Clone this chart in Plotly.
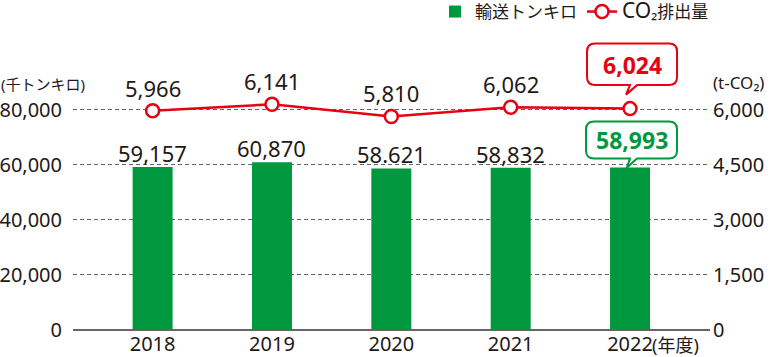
import plotly.graph_objects as go

years = ["2018", "2019", "2020", "2021", "2022"]
tonkm = [59157, 60870, 58621, 58832, 58993]          # 輸送トンキロ (千トンキロ)
co2 = [5966, 6141, 5810, 6062, 6024]                  # CO2排出量 (t-CO2)
tonkm_labels = ["59,157", "60,870", "58.621", "58,832", "58,993"]
co2_labels = ["5,966", "6,141", "5,810", "6,062", "6,024"]
left_ticks = [0, 20000, 40000, 60000, 80000]
left_ticktext = ["0", "20,000", "40,000", "60,000", "80,000"]
right_ticks = [0, 1500, 3000, 4500, 6000]
right_ticktext = ["0", "1,500", "3,000", "4,500", "6,000"]

GREEN = "#00983F"
RED = "#E60012"
TXT = "#231815"
FONT = "Noto Sans, Noto Sans CJK JP, sans-serif"

W, H = 770, 357
ML, MR, MT, MB = 73, 60, 40, 27
PH = H - MT - MB                     # plot height in px
PW = W - ML - MR
PX80 = 220.5                         # px between 0 and 80,000
YMAX = 80000 * PH / PX80
Y2MAX = YMAX * 6000 / 80000

def py(pix_y):                       # page y (px from top) -> paper fraction
    return (H - MB - pix_y) / PH

def px(pix_x):                       # page x -> paper fraction
    return (pix_x - ML) / PW

xs = list(range(len(years)))

fig = go.Figure()
fig.add_trace(go.Bar(
    x=xs, y=tonkm, name="輸送トンキロ", marker=dict(color=GREEN, line=dict(width=0)),
    width=0.335, yaxis="y",
))
fig.add_trace(go.Scatter(
    x=xs, y=co2, name="<span style='font-size:21px'>CO</span>₂排出量",
    mode="lines+markers", yaxis="y2",
    line=dict(color=RED, width=2.5),
    marker=dict(symbol="circle", size=13, color="white", line=dict(color=RED, width=2.5)),
))

ann = []
shapes = []
last = len(years) - 1
for i in xs:
    if i < last:
        ann.append(dict(x=i, y=tonkm[i], xref="x", yref="y", text=tonkm_labels[i],
                        showarrow=False, yanchor="middle", yshift=14,
                        font=dict(family=FONT, size=22, color=TXT)))
        ann.append(dict(x=i, y=co2[i], xref="x", yref="y2", text=co2_labels[i],
                        showarrow=False, yanchor="middle", yshift=23,
                        font=dict(family=FONT, size=22, color=TXT)))

def bubble(left, right, bottom, top, tb0, tb1, tipx, tipy, r=8):
    return (f"M{left + r},{top} L{right - r},{top} Q{right},{top} {right},{top - r} "
            f"L{right},{bottom + r} Q{right},{bottom} {right - r},{bottom} "
            f"L{tb1},{bottom} L{tipx},{tipy} L{tb0},{bottom} "
            f"L{left + r},{bottom} Q{left},{bottom} {left},{bottom + r} "
            f"L{left},{top - r} Q{left},{top} {left + r},{top} Z")

# callout for the last CO2 point
shapes.append(dict(type="path", xref="x", yref="y2", xsizemode="pixel", ysizemode="pixel",
                   xanchor=xs[last], yanchor=co2[last],
                   path=bubble(-43, 47, 23.5, 65, 0, 7, -4, 14),
                   line=dict(color=RED, width=2), fillcolor="white", layer="above"))
ann.append(dict(x=xs[last], y=co2[last], xref="x", yref="y2", text=f"<b>{co2_labels[last]}</b>",
                showarrow=False, yanchor="middle", yshift=44, xshift=2,
                font=dict(family=FONT, size=23, color=RED)))
# callout for the last bar
shapes.append(dict(type="path", xref="x", yref="y", xsizemode="pixel", ysizemode="pixel",
                   xanchor=xs[last], yanchor=tonkm[last],
                   path=bubble(-44, 47, 9, 46, 0, 7, -3, 0),
                   line=dict(color=GREEN, width=2), fillcolor="white", layer="above"))
ann.append(dict(x=xs[last], y=tonkm[last], xref="x", yref="y", text=f"<b>{tonkm_labels[last]}</b>",
                showarrow=False, yanchor="middle", yshift=27, xshift=2,
                font=dict(family=FONT, size=23, color=GREEN)))

# axis unit labels
ann.append(dict(x=0, y=py(84), xref="paper", yref="paper", text="(千トンキロ)", showarrow=False,
                xanchor="left", yanchor="middle", xshift=-74,
                font=dict(family=FONT, size=15, color=TXT)))
ann.append(dict(x=1, y=py(83), xref="paper", yref="paper", text="(t-CO₂)", showarrow=False,
                xanchor="left", yanchor="middle", xshift=1,
                font=dict(family=FONT, size=17, color=TXT)))
ann.append(dict(x=1, y=py(345), xref="paper", yref="paper", text="(年度)", showarrow=False,
                xanchor="left", yanchor="middle", xshift=-59, borderpad=0,
                font=dict(family=FONT, size=18, color=TXT)))

fig.update_layout(
    width=W, height=H,
    margin=dict(l=ML, r=MR, t=MT, b=MB, autoexpand=False),
    paper_bgcolor="white", plot_bgcolor="white",
    font=dict(family=FONT, color=TXT),
    showlegend=True,
    legend=dict(orientation="h", x=px(435), xanchor="left", y=py(-6), yanchor="top",
                font=dict(family=FONT, size=17, color=TXT), bgcolor="rgba(0,0,0,0)",
                itemclick=False),
    xaxis=dict(range=[-0.667, 4.67], tickvals=xs, ticktext=years, showgrid=False,
               zeroline=False, automargin=False, fixedrange=True,
               showline=False, ticks="", tickfont=dict(family=FONT, size=20, color=TXT)),
    yaxis=dict(range=[0, YMAX], tickvals=left_ticks, ticktext=left_ticktext,
               showgrid=True, gridcolor="#666666", gridwidth=1, griddash="4px,3px",
               zeroline=True, zerolinecolor="#666666", zerolinewidth=2, automargin=False,
               showline=False, ticks="", ticklabelstandoff=10, fixedrange=True,
               tickfont=dict(family=FONT, size=20, color=TXT)),
    yaxis2=dict(range=[0, Y2MAX], tickvals=right_ticks, ticktext=right_ticktext,
                overlaying="y", side="right", showgrid=False, zeroline=False,
                showline=False, ticks="", ticklabelstandoff=2, automargin=False,
                fixedrange=True, tickfont=dict(family=FONT, size=20, color=TXT)),
    annotations=ann, shapes=shapes,
)

fig.write_html("out.html", config={"displayModeBar": False},
               post_script="document.body.style.margin='0';document.body.style.padding='0';")
